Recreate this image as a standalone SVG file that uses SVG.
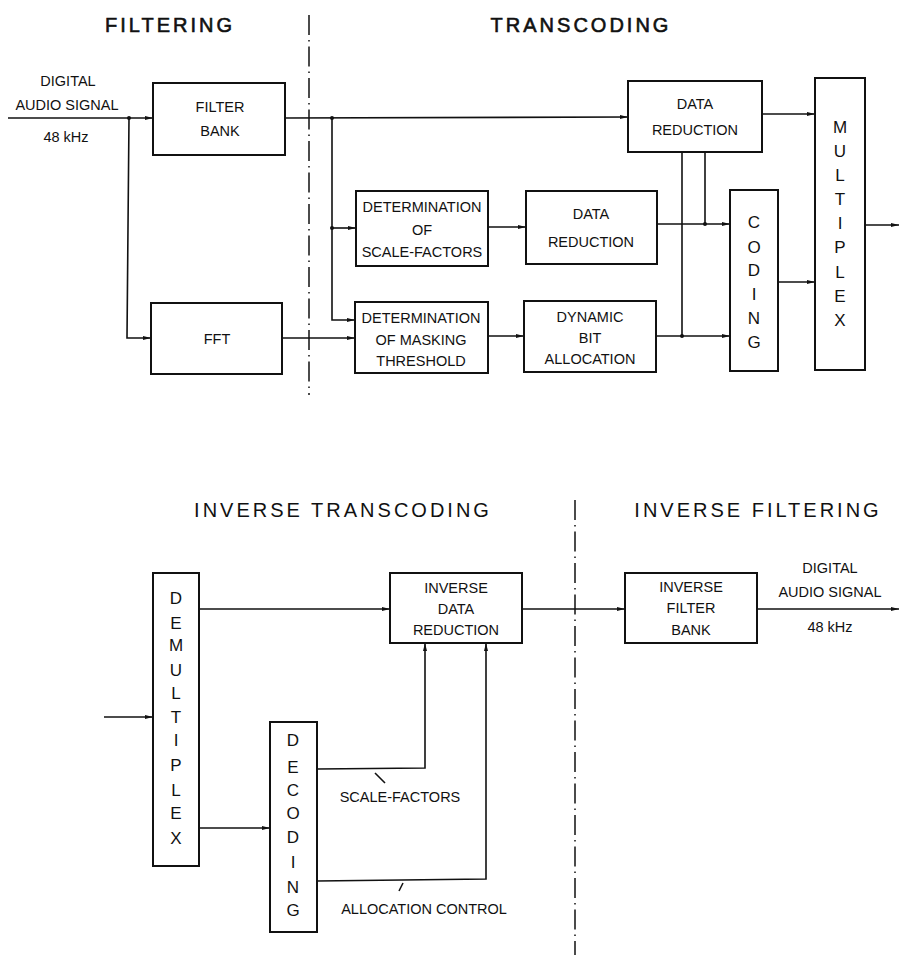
<svg xmlns="http://www.w3.org/2000/svg" width="899" height="958" viewBox="0 0 899 958">
<style>
  text{font-family:"Liberation Sans",Arial,sans-serif;fill:#111;}
  .box{fill:#fff;stroke:#111;stroke-width:2;}
  .lbl{font-size:14.5px;text-anchor:middle;}
  .vl{font-size:17px;text-anchor:middle;}
  .hd{font-size:20px;letter-spacing:3px;text-anchor:middle;}
  .hdb{stroke:#111;stroke-width:0.6;}
  .ln{fill:none;stroke:#111;stroke-width:1.6;}
  .dd{fill:none;stroke:#111;stroke-width:1.5;stroke-dasharray:20 5 1.5 5;}
  .dot{fill:#111;}
</style>
<defs>
  <marker id="ar" markerWidth="8" markerHeight="6" refX="8" refY="3" orient="auto" markerUnits="userSpaceOnUse">
    <path d="M0,1 L8,3 L0,5 Z" fill="#111"/>
  </marker>
</defs>

<g id="headings">
  <text class="hd hdb" x="170" y="32">FILTERING</text>
  <text class="hd hdb" x="581" y="32">TRANSCODING</text>
  <text class="hd" x="343" y="517">INVERSE TRANSCODING</text>
  <text class="hd" x="758" y="517">INVERSE FILTERING</text>
</g>

<g id="separators">
  <line class="dd" x1="309" y1="15" x2="309" y2="395"/>
  <line class="dd" x1="575" y1="500" x2="575" y2="955"/>
</g>

<g id="connectors">
  <!-- top section -->
  <line class="ln" x1="8" y1="118" x2="153" y2="118" marker-end="url(#ar)"/>
  <polyline class="ln" points="129,118 127,338 151,338" marker-end="url(#ar)"/>
  <line class="ln" x1="285" y1="118" x2="628" y2="117" marker-end="url(#ar)"/>
  <polyline class="ln" points="332,118 332,320 355,320" marker-end="url(#ar)"/>
  <line class="ln" x1="332" y1="228" x2="356" y2="228" marker-end="url(#ar)"/>
  <line class="ln" x1="282" y1="338" x2="355" y2="338" marker-end="url(#ar)"/>
  <line class="ln" x1="488" y1="227" x2="526" y2="227" marker-end="url(#ar)"/>
  <line class="ln" x1="488" y1="336" x2="524" y2="336" marker-end="url(#ar)"/>
  <line class="ln" x1="657" y1="224" x2="730" y2="224" marker-end="url(#ar)"/>
  <line class="ln" x1="656" y1="336" x2="730" y2="336" marker-end="url(#ar)"/>
  <line class="ln" x1="705" y1="152" x2="705" y2="224"/>
  <line class="ln" x1="682" y1="152" x2="682" y2="336"/>
  <line class="ln" x1="762" y1="114" x2="815" y2="114" marker-end="url(#ar)"/>
  <line class="ln" x1="778" y1="282" x2="815" y2="282" marker-end="url(#ar)"/>
  <line class="ln" x1="865" y1="225" x2="899" y2="225" marker-end="url(#ar)"/>
  <circle class="dot" cx="129" cy="118" r="2"/>
  <circle class="dot" cx="332" cy="118" r="2"/>
  <circle class="dot" cx="332" cy="228" r="2"/>
  <circle class="dot" cx="705" cy="224" r="2"/>
  <circle class="dot" cx="682" cy="336" r="2"/>
  <!-- bottom section -->
  <line class="ln" x1="104" y1="717" x2="153" y2="717" marker-end="url(#ar)"/>
  <line class="ln" x1="199" y1="609" x2="390" y2="609" marker-end="url(#ar)"/>
  <line class="ln" x1="199" y1="828" x2="270" y2="828" marker-end="url(#ar)"/>
  <line class="ln" x1="522" y1="609" x2="625" y2="609" marker-end="url(#ar)"/>
  <line class="ln" x1="757" y1="609" x2="899" y2="609" marker-end="url(#ar)"/>
  <polyline class="ln" points="317,769 425,768 425,643" marker-end="url(#ar)"/>
  <polyline class="ln" points="317,881 486,879 486,643" marker-end="url(#ar)"/>
  <line class="ln" x1="375" y1="773" x2="385" y2="783"/>
  <line class="ln" x1="403" y1="883" x2="399" y2="891"/>
</g>

<g id="input-label">
  <text class="lbl" x="68" y="86">DIGITAL</text>
  <text class="lbl" x="67" y="110">AUDIO SIGNAL</text>
  <text class="lbl" x="66" y="142">48 kHz</text>
</g>

<g id="filter-bank">
  <rect class="box" x="153" y="83" width="132" height="72"/>
  <text class="lbl" x="220" y="112">FILTER</text>
  <text class="lbl" x="220" y="136">BANK</text>
</g>

<g id="fft">
  <rect class="box" x="151" y="303" width="131" height="71"/>
  <text class="lbl" x="217" y="344">FFT</text>
</g>

<g id="det-scale-factors">
  <rect class="box" x="356" y="191" width="132" height="75"/>
  <text class="lbl" x="422" y="212">DETERMINATION</text>
  <text class="lbl" x="422" y="235">OF</text>
  <text class="lbl" x="422" y="257">SCALE-FACTORS</text>
</g>

<g id="det-masking-threshold">
  <rect class="box" x="355" y="302" width="133" height="71"/>
  <text class="lbl" x="421" y="323">DETERMINATION</text>
  <text class="lbl" x="421" y="345">OF MASKING</text>
  <text class="lbl" x="421" y="366">THRESHOLD</text>
</g>

<g id="data-reduction-top">
  <rect class="box" x="628" y="81" width="134" height="71"/>
  <text class="lbl" x="695" y="109">DATA</text>
  <text class="lbl" x="695" y="135">REDUCTION</text>
</g>

<g id="data-reduction-mid">
  <rect class="box" x="526" y="191" width="131" height="73"/>
  <text class="lbl" x="591" y="219">DATA</text>
  <text class="lbl" x="591" y="247">REDUCTION</text>
</g>

<g id="dynamic-bit-allocation">
  <rect class="box" x="524" y="301" width="132" height="71"/>
  <text class="lbl" x="590" y="322">DYNAMIC</text>
  <text class="lbl" x="590" y="343">BIT</text>
  <text class="lbl" x="590" y="364">ALLOCATION</text>
</g>

<g id="coding">
  <rect class="box" x="730" y="190" width="48" height="181"/>
  <text class="vl" x="754" y="228">C</text>
  <text class="vl" x="754" y="253">O</text>
  <text class="vl" x="754" y="276">D</text>
  <text class="vl" x="754" y="300">I</text>
  <text class="vl" x="754" y="324">N</text>
  <text class="vl" x="754" y="348">G</text>
</g>

<g id="multiplex">
  <rect class="box" x="815" y="78" width="50" height="292"/>
  <text class="vl" x="840" y="133">M</text>
  <text class="vl" x="840" y="157">U</text>
  <text class="vl" x="840" y="181">L</text>
  <text class="vl" x="840" y="205">T</text>
  <text class="vl" x="840" y="229">I</text>
  <text class="vl" x="840" y="253">P</text>
  <text class="vl" x="840" y="278">L</text>
  <text class="vl" x="840" y="302">E</text>
  <text class="vl" x="840" y="326">X</text>
</g>

<g id="demultiplex">
  <rect class="box" x="153" y="573" width="46" height="293"/>
  <text class="vl" x="176" y="604">D</text>
  <text class="vl" x="176" y="629">E</text>
  <text class="vl" x="176" y="651">M</text>
  <text class="vl" x="176" y="676">U</text>
  <text class="vl" x="176" y="699">L</text>
  <text class="vl" x="176" y="723">T</text>
  <text class="vl" x="176" y="746">I</text>
  <text class="vl" x="176" y="771">P</text>
  <text class="vl" x="176" y="796">L</text>
  <text class="vl" x="176" y="819">E</text>
  <text class="vl" x="176" y="844">X</text>
</g>

<g id="decoding">
  <rect class="box" x="270" y="722" width="47" height="210"/>
  <text class="vl" x="293" y="746">D</text>
  <text class="vl" x="293" y="773">E</text>
  <text class="vl" x="293" y="796">C</text>
  <text class="vl" x="293" y="819">O</text>
  <text class="vl" x="293" y="843">D</text>
  <text class="vl" x="293" y="868">I</text>
  <text class="vl" x="293" y="893">N</text>
  <text class="vl" x="293" y="916">G</text>
</g>

<g id="inverse-data-reduction">
  <rect class="box" x="390" y="573" width="132" height="70"/>
  <text class="lbl" x="456" y="593">INVERSE</text>
  <text class="lbl" x="456" y="614">DATA</text>
  <text class="lbl" x="456" y="635">REDUCTION</text>
</g>

<g id="inverse-filter-bank">
  <rect class="box" x="625" y="573" width="132" height="70"/>
  <text class="lbl" x="691" y="592">INVERSE</text>
  <text class="lbl" x="691" y="613">FILTER</text>
  <text class="lbl" x="691" y="635">BANK</text>
</g>

<g id="output-label">
  <text class="lbl" x="830" y="573">DIGITAL</text>
  <text class="lbl" x="830" y="597">AUDIO SIGNAL</text>
  <text class="lbl" x="830" y="632">48 kHz</text>
</g>

<g id="signal-labels">
  <text class="lbl" x="400" y="802">SCALE-FACTORS</text>
  <text class="lbl" x="424" y="914">ALLOCATION CONTROL</text>
</g>
</svg>
